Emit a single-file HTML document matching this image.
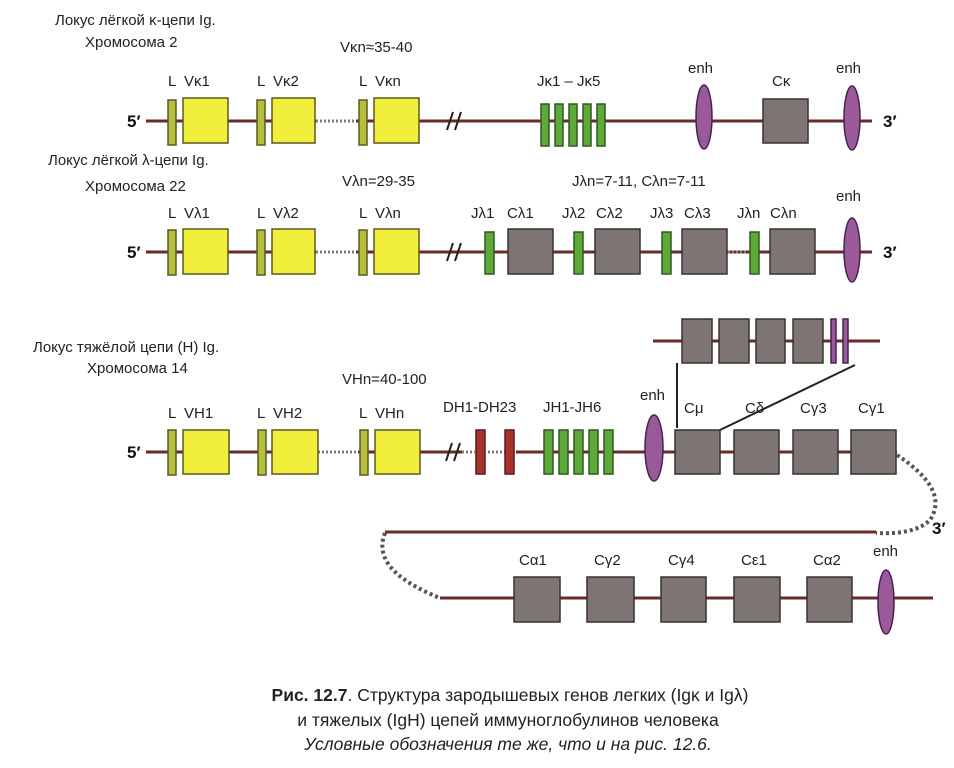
<!DOCTYPE html>
<html><head><meta charset="utf-8"><style>
html,body{margin:0;padding:0;background:#fff;}
svg{display:block;font-family:"Liberation Sans",sans-serif;}
.t{font-size:15px;fill:#222;}
.b{font-size:17px;font-weight:bold;fill:#111;}
</style></head><body>
<svg width="954" height="768" viewBox="0 0 954 768" xmlns="http://www.w3.org/2000/svg">
<g stroke="#6a2a2a" stroke-width="3" fill="none">
<line x1="146" y1="121" x2="872" y2="121"/>
<line x1="146" y1="252" x2="872" y2="252"/>
<line x1="146" y1="452" x2="897" y2="452"/>
<line x1="653" y1="341" x2="880" y2="341"/>
<line x1="385" y1="532" x2="876" y2="532"/>
<line x1="440" y1="598" x2="933" y2="598"/>
</g>
<g stroke="#fff" stroke-width="4">
<line x1="316" y1="121" x2="356" y2="121"/><line x1="316" y1="252" x2="356" y2="252"/><line x1="318" y1="452" x2="358" y2="452"/>
<line x1="462" y1="452" x2="540" y2="452"/>
</g>
<g stroke="#8a7a6a" stroke-width="3" stroke-dasharray="2,2">
<line x1="316" y1="121" x2="356" y2="121"/><line x1="316" y1="252" x2="356" y2="252"/><line x1="318" y1="452" x2="358" y2="452"/>
<line x1="462" y1="452" x2="475" y2="452"/><line x1="488" y1="452" x2="505" y2="452"/>
<line x1="728" y1="252" x2="748" y2="252"/>
</g>
<line x1="516" y1="452" x2="543" y2="452" stroke="#6a2a2a" stroke-width="3"/>
<g fill="none" stroke="#555" stroke-width="4" stroke-dasharray="3,3">
<path d="M897 455 Q950 490 930 520 Q915 535 876 533"/>
<path d="M385 533 Q370 570 440 598"/>
</g>
<g stroke="#222" stroke-width="2" fill="none">
<line x1="447" y1="130" x2="453" y2="112"/><line x1="455" y1="130" x2="461" y2="112"/>
<line x1="447" y1="261" x2="453" y2="243"/><line x1="455" y1="261" x2="461" y2="243"/>
<line x1="446" y1="461" x2="452" y2="443"/><line x1="454" y1="461" x2="460" y2="443"/>
<line x1="677" y1="363" x2="677" y2="428"/><line x1="720" y1="430" x2="855" y2="365"/>
</g>
<g fill="#b6bf3c" stroke="#5a5a20" stroke-width="1.5">
<rect x="168" y="100" width="8" height="45"/><rect x="257" y="100" width="8" height="45"/><rect x="359" y="100" width="8" height="45"/>
<rect x="168" y="230" width="8" height="45"/><rect x="257" y="230" width="8" height="45"/><rect x="359" y="230" width="8" height="45"/>
<rect x="168" y="430" width="8" height="45"/><rect x="258" y="430" width="8" height="45"/><rect x="360" y="430" width="8" height="45"/>
</g>
<g fill="#f2ee3c" stroke="#5a5a20" stroke-width="1.5">
<rect x="183" y="98" width="45" height="45"/><rect x="272" y="98" width="43" height="45"/><rect x="374" y="98" width="45" height="45"/>
<rect x="183" y="229" width="45" height="45"/><rect x="272" y="229" width="43" height="45"/><rect x="374" y="229" width="45" height="45"/>
<rect x="183" y="430" width="46" height="44"/><rect x="272" y="430" width="46" height="44"/><rect x="375" y="430" width="45" height="44"/>
</g>
<g fill="#5fa83a" stroke="#2f5a20" stroke-width="1.5">
<rect x="541" y="104" width="8" height="42"/><rect x="555" y="104" width="8" height="42"/><rect x="569" y="104" width="8" height="42"/><rect x="583" y="104" width="8" height="42"/><rect x="597" y="104" width="8" height="42"/>
<rect x="485" y="232" width="9" height="42"/><rect x="574" y="232" width="9" height="42"/><rect x="662" y="232" width="9" height="42"/><rect x="750" y="232" width="9" height="42"/>
<rect x="544" y="430" width="9" height="44"/><rect x="559" y="430" width="9" height="44"/><rect x="574" y="430" width="9" height="44"/><rect x="589" y="430" width="9" height="44"/><rect x="604" y="430" width="9" height="44"/>
</g>
<g fill="#a8332c" stroke="#5a1a1a" stroke-width="1.5">
<rect x="476" y="430" width="9" height="44"/><rect x="505" y="430" width="9" height="44"/>
</g>
<g fill="#7d7573" stroke="#3a3030" stroke-width="1.5">
<rect x="763" y="99" width="45" height="44"/>
<rect x="508" y="229" width="45" height="45"/><rect x="595" y="229" width="45" height="45"/><rect x="682" y="229" width="45" height="45"/><rect x="770" y="229" width="45" height="45"/>
<rect x="675" y="430" width="45" height="44"/><rect x="734" y="430" width="45" height="44"/><rect x="793" y="430" width="45" height="44"/><rect x="851" y="430" width="45" height="44"/>
<rect x="682" y="319" width="30" height="44"/><rect x="719" y="319" width="30" height="44"/><rect x="756" y="319" width="29" height="44"/><rect x="793" y="319" width="30" height="44"/>
<rect x="514" y="577" width="46" height="45"/><rect x="587" y="577" width="47" height="45"/><rect x="661" y="577" width="45" height="45"/><rect x="734" y="577" width="46" height="45"/><rect x="807" y="577" width="45" height="45"/>
</g>
<g fill="#9a5a9a" stroke="#4a2050" stroke-width="1.5">
<rect x="831" y="319" width="5" height="44"/><rect x="843" y="319" width="5" height="44"/>
<ellipse cx="704" cy="117" rx="8" ry="32"/><ellipse cx="852" cy="118" rx="8" ry="32"/>
<ellipse cx="852" cy="250" rx="8" ry="32"/>
<ellipse cx="654" cy="448" rx="9" ry="33"/>
<ellipse cx="886" cy="602" rx="8" ry="32"/>
</g>
<g class="t">
<text x="55" y="25">Локус лёгкой κ-цепи Ig.</text><text x="85" y="47">Хромосома 2</text>
<text x="48" y="165">Локус лёгкой λ-цепи Ig.</text><text x="85" y="191">Хромосома 22</text>
<text x="33" y="352">Локус тяжёлой цепи (Н) Ig.</text><text x="87" y="373">Хромосома 14</text>
<text x="340" y="52">Vκn≈35-40</text><text x="342" y="186">Vλn=29-35</text><text x="342" y="384">VHn=40-100</text>
<text x="168" y="86">L</text><text x="184" y="86">Vκ1</text><text x="257" y="86">L</text><text x="273" y="86">Vκ2</text><text x="359" y="86">L</text><text x="375" y="86">Vκn</text>
<text x="168" y="218">L</text><text x="184" y="218">Vλ1</text><text x="257" y="218">L</text><text x="273" y="218">Vλ2</text><text x="359" y="218">L</text><text x="375" y="218">Vλn</text>
<text x="168" y="418">L</text><text x="184" y="418">VH1</text><text x="257" y="418">L</text><text x="273" y="418">VH2</text><text x="359" y="418">L</text><text x="375" y="418">VHn</text>
<text x="537" y="86">Jκ1 – Jκ5</text>
<text x="688" y="73">enh</text><text x="772" y="86">Cκ</text><text x="836" y="73">enh</text>
<text x="572" y="186">Jλn=7-11, Cλn=7-11</text>
<text x="471" y="218">Jλ1</text><text x="507" y="218">Cλ1</text><text x="562" y="218">Jλ2</text><text x="596" y="218">Cλ2</text><text x="650" y="218">Jλ3</text><text x="684" y="218">Cλ3</text><text x="737" y="218">Jλn</text><text x="770" y="218">Cλn</text>
<text x="836" y="201">enh</text>
<text x="443" y="412">DH1-DH23</text><text x="543" y="412">JH1-JH6</text>
<text x="640" y="400">enh</text>
<text x="684" y="413">Cμ</text><text x="745" y="413">Cδ</text><text x="800" y="413">Cγ3</text><text x="858" y="413">Cγ1</text>
<text x="519" y="565">Cα1</text><text x="594" y="565">Cγ2</text><text x="668" y="565">Cγ4</text><text x="741" y="565">Cε1</text><text x="813" y="565">Cα2</text>
<text x="873" y="556">enh</text>
</g>
<g class="b">
<text x="127" y="127">5′</text><text x="127" y="258">5′</text><text x="127" y="458">5′</text>
<text x="883" y="127">3′</text><text x="883" y="258">3′</text><text x="932" y="534">3′</text>
</g>
<g font-family="'Liberation Sans',sans-serif" font-size="17.5" fill="#222" text-anchor="middle">
<text x="510" y="701"><tspan font-weight="bold">Рис. 12.7</tspan>. Структура зародышевых генов легких (Igκ и Igλ)</text>
<text x="508" y="726">и тяжелых (IgH) цепей иммуноглобулинов человека</text>
<text x="508" y="750" font-style="italic">Условные обозначения те же, что и на рис. 12.6.</text>
</g>
</svg>
</body></html>
